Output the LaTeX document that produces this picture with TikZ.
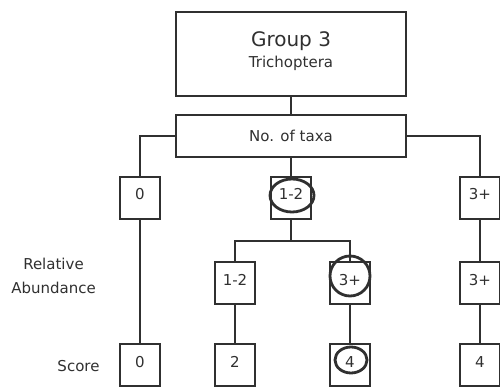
\documentclass[tikz,border=0pt]{standalone}
\usepackage{fontspec}
\setmainfont{DejaVu Sans}
\definecolor{ink}{HTML}{303030}

\begin{document}
\begin{tikzpicture}[x=1pt,y=-1pt,
    font=\fontsize{15}{18}\selectfont,text=ink,
    frame/.style={draw=ink,line width=1.6pt},
    box/.style={frame,inner sep=0pt,minimum width=40pt,text height=23pt,text depth=19pt},
    ring/.style={draw=ink,line width=2.8pt}]
    \useasboundingbox (0,0) rectangle (500,387);
    % header
    \node[frame,minimum width=230pt,minimum height=84pt,align=center] (group) at (291,54)
    {{\fontsize{20}{24}\selectfont Group 3}\\[3pt]Trichoptera\rule[-9pt]{0pt}{9pt}};
    \node[frame,minimum width=230pt,minimum height=42pt] (taxa) at (291,136) {No. of taxa};
    % number of taxa
    \node[box] (n0) at (140,198) {0};
    \node[box] (n12) at (291,198) {1-2};
    \node[box] (n3) at (480,198) {3+};
    % relative abundance
    \node[box] (a12) at (235,283) {1-2};
    \node[box] (a3) at (350,283) {3+};
    \node[box] (a3r) at (480,283) {3+};
    % score
    \node[box] (s0) at (140,365) {0};
    \node[box] (s2) at (235,365) {2};
    \node[box] (s4) at (350,365) {4};
    \node[box] (s4r) at (480,365) {4};
    \node[align=center,font=\fontsize{15}{24}\selectfont] (rel) at (53.5,276) {Relative\\Abundance};
    \node (score) at (78.5,366) {Score};
    % connectors
    \draw[frame] (group) -- (taxa);
    \draw[frame] (taxa.west) -| (n0);
    \draw[frame] (taxa) -- (n12);
    \draw[frame] (taxa.east) -| (n3);
    \draw[frame] (n12.south) -- ++(0,21) coordinate (split);
    \draw[frame] (split) -| (a12);
    \draw[frame] (split) -| (a3);
    \draw[frame] (n0) -- (s0);
    \draw[frame] (a12) -- (s2);
    \draw[frame] (a3) -- (s4);
    \draw[frame] (n3) -- (a3r) -- (s4r);
    % hand drawn rings
    \draw[ring] (292,195.5) ellipse (22 and 16.5);
    \draw[ring] (350,276) ellipse (20 and 20);
    \draw[ring] (351,360) ellipse (16 and 13);
\end{tikzpicture}
\end{document}
